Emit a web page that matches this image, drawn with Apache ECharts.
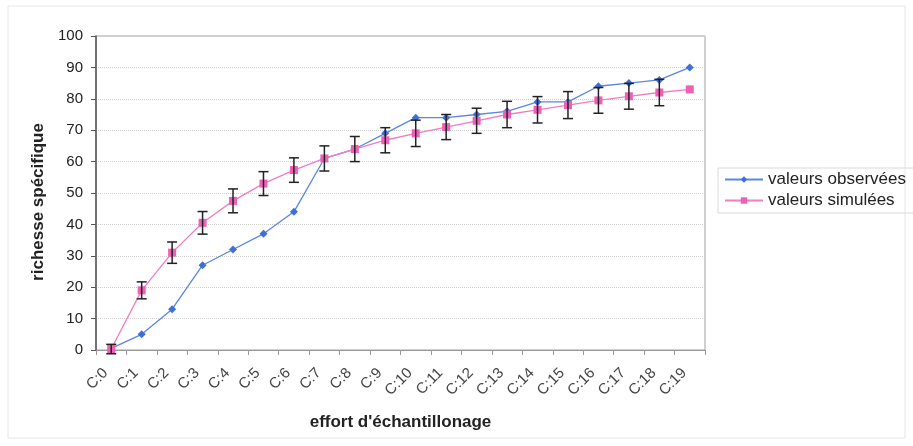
<!DOCTYPE html>
<html><head><meta charset="utf-8">
<script src="https://cdn.jsdelivr.net/npm/echarts@6/dist/echarts.min.js"></script>
<style>html,body{margin:0;padding:0;background:#fff}#c{width:913px;height:446px}</style>
</head><body><div id="c"></div>
<script>
const categories = ['C:0','C:1','C:2','C:3','C:4','C:5','C:6','C:7','C:8','C:9','C:10','C:11','C:12','C:13','C:14','C:15','C:16','C:17','C:18','C:19'];
const observed = [0.5,5,13,27,32,37,44,61,64,69,74,74,75,76,79,79,84,85,86,90];
const simulated = [0.3,19,31,40.5,47.5,53,57.3,61,64,66.8,69,71,73,75,76.5,78,79.5,80.8,82,83];
const simError = [1.5,2.7,3.4,3.6,3.8,3.8,3.9,4,4,4,4.2,4,4,4.2,4.2,4.3,4.1,4.1,4.2,0];
const yTicks = [0,10,20,30,40,50,60,70,80,90,100];

const font = 'Liberation Sans, Arial, sans-serif';
const chart = echarts.init(document.getElementById('c'));
const errData = categories.map((c,i)=>[i, simulated[i]-simError[i], simulated[i]+simError[i]]);
chart.setOption({
  animation:false,
  backgroundColor:'#fff',
  graphic:[{type:'rect',shape:{x:8,y:6,width:897,height:432},style:{fill:'none',stroke:'#e6e6e6',lineWidth:1},silent:true}],
  grid:{left:96,right:208,top:36,bottom:96,show:true,borderColor:'#a0a0a0',borderWidth:1},
  legend:{
    orient:'vertical', left:718, top:168, itemGap:4, itemWidth:38, itemHeight:8,
    textStyle:{fontFamily:font,fontSize:17,color:'#222'},
    borderColor:'#dadada',borderWidth:1,padding:[3,10,4,6],
    data:['valeurs observées','valeurs simulées']
  },
  xAxis:{
    type:'category', data:categories, boundaryGap:true,
    name:"effort d'échantillonage", nameLocation:'middle', nameGap:64,
    nameTextStyle:{fontFamily:font,fontSize:17,fontWeight:'bold',color:'#222'},
    axisLine:{lineStyle:{color:'#999'}}, axisTick:{show:true,lineStyle:{color:'#999'}},
    axisLabel:{rotate:45,fontFamily:font,fontSize:15,color:'#444',margin:15,padding:[0,8,0,0]},
    splitLine:{show:false}
  },
  yAxis:{
    type:'value', min:0, max:100, interval:10,
    name:'richesse spécifique', nameLocation:'middle', nameGap:49, nameRotate:90,
    nameTextStyle:{fontFamily:font,fontSize:17,fontWeight:'bold',color:'#222',padding:[0,18,0,0]},
    axisLine:{show:true,lineStyle:{color:'#555',width:1.5}}, axisTick:{show:true,lineStyle:{color:'#555'}},
    axisLabel:{fontFamily:font,fontSize:15,color:'#222',margin:13,formatter:v=>yTicks.includes(v)?String(v):''},
    splitLine:{show:true,lineStyle:{color:'#d0d0d0',type:'dotted'}}
  },
  series:[
    {name:'valeurs observées',type:'line',data:observed,symbol:'diamond',symbolSize:8,
     itemStyle:{color:'#3f6fd8'},lineStyle:{color:'#5b85e0',width:1.3},z:3},
    {name:'valeurs simulées',type:'line',data:simulated,symbol:'rect',symbolSize:8,
     itemStyle:{color:'#ee5fb5'},lineStyle:{color:'#f27cc4',width:1.3},z:4},
    {name:'err',type:'custom',data:errData,z:5,
     renderItem:function(params,api){
       const x=api.value(0);
       const lo=api.coord([x,api.value(1)]);
       const hi=api.coord([x,api.value(2)]);
       if (Math.abs(hi[1]-lo[1])<1) return null;
       const w=5;
       const st={stroke:'#222',lineWidth:1.5};
       return {type:'group',children:[
         {type:'line',shape:{x1:lo[0],y1:lo[1],x2:hi[0],y2:hi[1]},style:st},
         {type:'line',shape:{x1:lo[0]-w,y1:lo[1],x2:lo[0]+w,y2:lo[1]},style:st},
         {type:'line',shape:{x1:hi[0]-w,y1:hi[1],x2:hi[0]+w,y2:hi[1]},style:st}
       ]};
     }}
  ]
});
</script></body></html>
